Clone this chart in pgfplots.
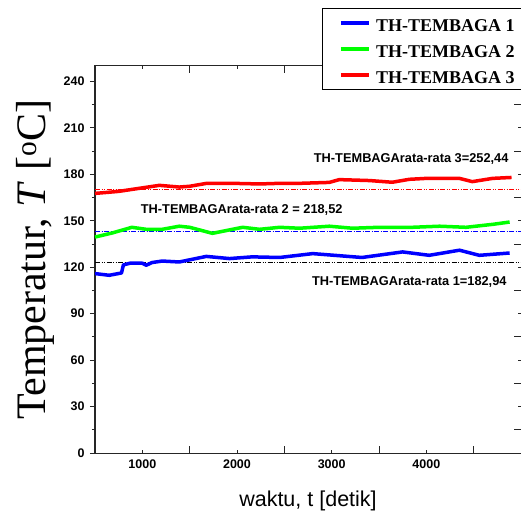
\documentclass[border=0pt]{standalone}
\usepackage{pgfplots}
\pgfplotsset{compat=1.18}
\usepackage{fontspec}
\setmainfont{Liberation Sans}
\newfontfamily\serif{Liberation Serif}

\begin{document}
\begin{tikzpicture}
% common frame
\pgfplotsset{
    frame/.style={
        width=426pt, height=387pt, scale only axis,
        xmin=500, xmax=5000, ymin=0, ymax=250,
        axis line style={line width=1pt, black!85},
        every tick/.style={line width=0.9pt, black!85},
        clip=false,
    },
}
% left y axis: ticks outside, labels
\begin{axis}[frame,
    xtick=\empty,
    ytick={0,30,...,240},
    minor ytick={15,45,...,225},
    ytick pos=left, tick align=outside,
    major tick length=5pt, minor tick length=3pt,
    yticklabel style={font=\fontsize{12.5}{14}\selectfont\bfseries, xshift=-2pt},
    /pgf/number format/assume math mode=true,
    ylabel={{\serif Temperatur, \textit{T} [\textsuperscript{o}C]}},
    ylabel style={at={(axis description cs:-0.117,0.5)}, anchor=base,
        font=\fontsize{42}{46}\selectfont},
]
\end{axis}

% main axis with data
\begin{axis}[frame,
    xtick={1000,2000,3000,4000},
    minor xtick={1500,2500,3500,4500},
    ytick={0,30,...,240},
    minor ytick={15,45,...,225},
    yticklabels={},
    xtick pos=both, ytick pos=right, tick align=inside,
    major tick length=3pt, minor tick length=7pt,
    xticklabel pos=bottom,
    xticklabel style={font=\fontsize{12.5}{14}\selectfont\bfseries, yshift=-3pt},
    /pgf/number format/assume math mode=true,
    /pgf/number format/set thousands separator={},
    xlabel={waktu, t [detik]},
    xlabel style={at={(axis description cs:0.5,-0.1395)}, anchor=base,
        font=\fontsize{21.5}{24}\selectfont},
    legend cell align=left,
    legend image code/.code={\draw[#1, line width=4.5pt] (0pt,0pt) -- (28pt,0pt);},
    legend style={at={(rel axis cs:0.533,1.15)}, anchor=north west,
        draw=black, line width=1pt, fill=white,
        inner xsep=16pt, inner ysep=5pt,
        font=\serif\fontsize{18}{20}\selectfont\bfseries,
        nodes={text height=17pt, text depth=0pt, inner sep=1pt},
        row sep=7pt, column sep=4pt},
]
% reference lines
\addplot[red, line width=0.8pt, dash pattern=on 5pt off 1.5pt on 1pt off 1.5pt on 1pt off 1.5pt, forget plot]
    coordinates {(500,170.3) (5000,170.3)};
\addplot[blue, line width=0.8pt, dash pattern=on 5pt off 1.5pt on 1pt off 1.5pt, forget plot]
    coordinates {(500,143.2) (5000,143.2)};
\addplot[black, line width=0.8pt, dash pattern=on 5pt off 1.5pt on 1pt off 1.5pt on 1pt off 1.5pt, forget plot]
    coordinates {(500,123) (5000,123)};

% --- TH-TEMBAGA 1 ---
\addplot[blue, line width=3.5pt, line join=round] coordinates {
    (500,115.9) (650,114.8) (780,116.3) (800,121.5) (870,122.6) (1000,122.6)
    (1042,121.3) (1100,123) (1210,124) (1390,123.4) (1676,127) (1920,125.6)
    (2160,126.7) (2450,126.3) (2800,128.8) (3320,126.3) (3750,129.9)
    (4030,127.7) (4350,131) (4560,127.7) (4880,129.2)
};
\addlegendentry{TH-TEMBAGA 1}

% --- TH-TEMBAGA 2 ---
\addplot[green, line width=3.5pt, line join=round] coordinates {
    (500,139.5) (680,142.1) (890,145.8) (1040,144.5) (1210,144.5) (1390,146.5)
    (1500,145.8) (1740,141.9) (2060,145.8) (2240,144.5) (2450,145.8)
    (2660,145.2) (2975,146.5) (3220,145.2) (3500,145.8) (3850,145.8)
    (4140,146.5) (4420,145.8) (4700,147.7) (4880,149.2)
};
\addlegendentry{TH-TEMBAGA 2}

% --- TH-TEMBAGA 3 ---
\addplot[red, line width=3.5pt, line join=round] coordinates {
    (500,167.7) (600,168.2) (750,169) (970,171) (1180,172.9) (1390,171.8)
    (1500,172.3) (1680,174.2) (1950,174.2) (2240,173.8) (2450,174.2)
    (2660,174.2) (2975,174.8) (3080,176.6) (3400,176) (3640,174.9)
    (3820,176.8) (4000,177.4) (4350,177.4) (4485,175.3) (4700,177.4) (4900,178)
};
\addlegendentry{TH-TEMBAGA 3}

% annotations
\node[font=\fontsize{12.8}{14}\selectfont\bfseries] at (axis cs:3840,189.7) {TH-TEMBAGArata-rata 3=252,44};
\node[font=\fontsize{12.8}{14}\selectfont\bfseries] at (axis cs:2050,156.8) {TH-TEMBAGArata-rata 2 = 218,52};
\node[font=\fontsize{12.8}{14}\selectfont\bfseries] at (axis cs:3820,110.3) {TH-TEMBAGArata-rata 1=182,94};
\end{axis}
\pgfresetboundingbox
\useasboundingbox (-95pt,-60pt) rectangle (426pt,453pt);
\end{tikzpicture}
\end{document}
